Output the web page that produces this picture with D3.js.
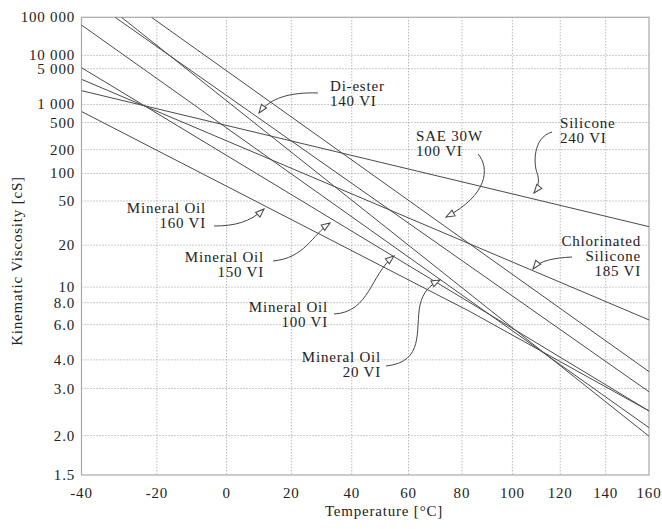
<!DOCTYPE html>
<html><head><meta charset="utf-8">
<script src="https://cdn.jsdelivr.net/npm/d3@7"></script>
<style>
html,body{margin:0;padding:0;background:#fff;}
svg{display:block;}
</style></head>
<body>
<svg id="chart" width="662" height="529"></svg>
<script>
// ---- data ----
const xTicks = [-40, -20, 0, 20, 40, 60, 80, 100, 120, 140, 160];
const yTicks = [1.5, 2, 3, 4, 6, 8, 10, 20, 50, 100, 200, 500, 1000, 5000, 10000, 100000];
const yTickLabels = ["1.5", "2.0", "3.0", "4.0", "6.0", "8.0", "10", "20", "50", "100", "200", "500", "1 000", "5 000", "10 000", "100 000"];
const oilNames = ["Silicone 240 VI", "Chlorinated Silicone 185 VI", "SAE 30W 100 VI", "Di-ester 140 VI",
  "Mineral Oil 160 VI", "Mineral Oil 150 VI", "Mineral Oil 100 VI", "Mineral Oil 20 VI"];
// [temperature °C, viscosity cS] points
const silicone = [[-40, 1790], [160, 28.6]];
const chlorSilicone = [[-40, 3000], [160, 6.37]];
const sae30w = [[-21.5, 100000], [160, 3.54]];
const diester = [[-31.3, 100000], [160, 2.91]];
const mineral160 = [[-40, 757], [83.2, 7.09], [160, 2.45]];
const mineral150 = [[-40, 5276], [160, 2.45]];
const mineral100 = [[-40, 60100], [160, 2.13]];
const mineral20 = [[-29.6, 100000], [160, 1.99]];
const series = [silicone, chlorSilicone, sae30w, diester, mineral160, mineral150, mineral100, mineral20];

// ---- layout ----
const L = 81.5, R = 649, T = 17.3, B = 475;
const FONT = "Liberation Serif";
const svg = d3.select("#chart");
const xs = d3.scaleLog().domain([-40 + 273.15, 160 + 273.15]).range([L, R]);
const x = t => xs(t + 273.15);
const walther = v => Math.log10(Math.log10(v + 0.7));
const ys = d3.scaleLinear().domain([walther(1.5), walther(100000)]).range([B, T]);
const y = v => ys(walther(v));

function txt(sel) {
  return sel.attr("font-family", FONT).attr("font-size", 15).attr("letter-spacing", 0.8).attr("fill", "#222");
}

// grid
const grid = svg.append("g").attr("stroke", "#999").attr("stroke-width", 1).attr("stroke-dasharray", "1,2");
xTicks.slice(1, -1).forEach(t => grid.append("line").attr("x1", x(t)).attr("x2", x(t)).attr("y1", T).attr("y2", B));
yTicks.slice(1, -1).forEach(v => grid.append("line").attr("x1", L).attr("x2", R).attr("y1", y(v)).attr("y2", y(v)));

// frame
svg.append("rect").attr("x", L).attr("y", T).attr("width", R - L).attr("height", B - T)
  .attr("fill", "none").attr("stroke", "#a8a8a8").attr("stroke-width", 1.2);

// tick labels
txt(svg.append("g").selectAll("text").data(xTicks).join("text"))
  .attr("x", d => x(d)).attr("y", 498).attr("text-anchor", "middle").text(d => d);
txt(svg.append("g").selectAll("text").data(yTicks).join("text"))
  .attr("x", 75).attr("y", d => y(d) + 5).attr("text-anchor", "end")
  .text((d, i) => yTickLabels[i]);

// axis titles
txt(svg.append("text")).attr("x", 384).attr("y", 516).attr("text-anchor", "middle").text("Temperature [°C]");
txt(svg.append("text")).attr("transform", "translate(22,261) rotate(-90)").attr("text-anchor", "middle")
  .text("Kinematic Viscosity [cS]");

// clip
svg.append("clipPath").attr("id", "clip").append("rect").attr("x", L).attr("y", T).attr("width", R - L).attr("height", B - T);

const line = d3.line().x(d => x(d[0])).y(d => y(d[1]));
svg.append("g").attr("clip-path", "url(#clip)").selectAll("path").data(series).join("path")
  .attr("d", line).attr("fill", "none").attr("stroke", "#4a4a4a").attr("stroke-width", 1);

// arrow marker
svg.append("defs").append("marker").attr("id", "ah").attr("viewBox", "-10 -5 12 10")
  .attr("refX", 0).attr("refY", 0).attr("markerWidth", 12).attr("markerHeight", 10)
  .attr("markerUnits", "userSpaceOnUse").attr("orient", "auto")
  .append("path").attr("d", "M0,0 L-8.5,-3.2 L-8.5,3.2 Z").attr("fill", "#fff").attr("stroke", "#444").attr("stroke-width", 1);

// annotations
const notes = [
  {lines: ["Di-ester", "140 VI"], tx: 330, ty: 91, anchor: "start", d: "M318,93 C290,92 270,98 259,113"},
  {lines: ["SAE 30W", "100 VI"], tx: 416, ty: 141, anchor: "start", d: "M478,154 C490,168 488,195 446,217"},
  {lines: ["Silicone", "240 VI"], tx: 560, ty: 128, anchor: "start", d: "M552,132 C532,138 534,165 537,173 C540,180 538,188 534,193"},
  {lines: ["Chlorinated", "Silicone", "185 VI"], tx: 641, ty: 246, anchor: "end", d: "M572,257 C555,258 540,260 533,269"},
  {lines: ["Mineral Oil", "160 VI"], tx: 206, ty: 213, anchor: "end", d: "M214,226 C235,226 250,222 264,209"},
  {lines: ["Mineral Oil", "150 VI"], tx: 264, ty: 262, anchor: "end", d: "M273,261 C305,258 312,235 330,223"},
  {lines: ["Mineral Oil", "100 VI"], tx: 328, ty: 312, anchor: "end", d: "M334,314 C370,312 370,275 394,256"},
  {lines: ["Mineral Oil", "20 VI"], tx: 381, ty: 362, anchor: "end", d: "M386,366 C425,362 415,330 420,305 C423,292 430,285 440,280"}
];
const ng = svg.append("g");
notes.forEach(n => {
  n.lines.forEach((s, i) => txt(ng.append("text"))
    .attr("x", n.tx).attr("y", n.ty + i * 15).attr("text-anchor", n.anchor).text(s));
  ng.append("path").attr("d", n.d).attr("fill", "none").attr("stroke", "#444").attr("stroke-width", 1)
    .attr("marker-end", "url(#ah)");
});
</script>
</body></html>
